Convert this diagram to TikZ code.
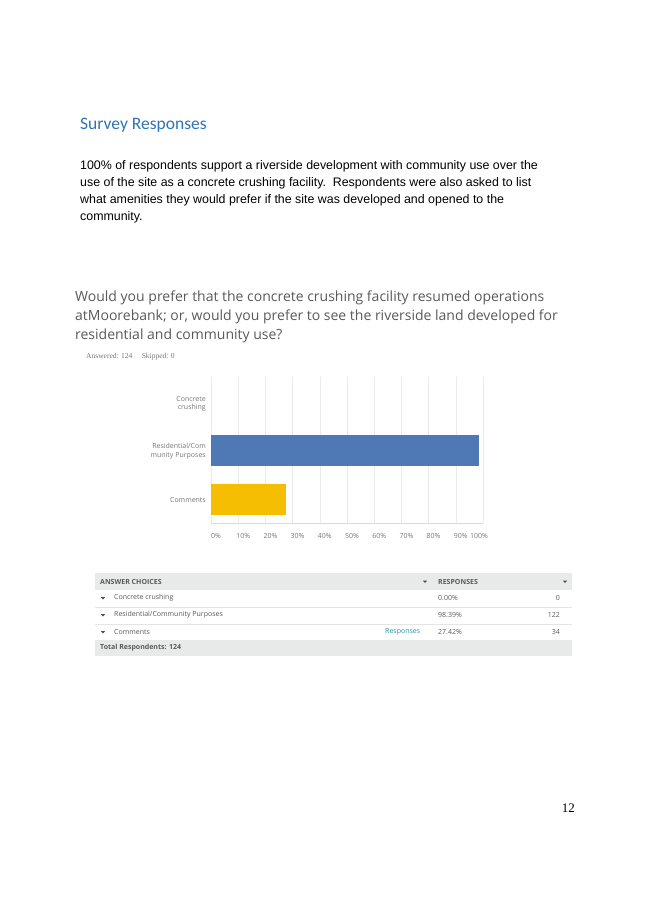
\documentclass[tikz,border=0pt]{standalone}
\usepackage{fontspec}
\setmainfont{Liberation Sans}
\newfontfamily\titlefont{Carlito}
\newfontfamily\smfont{Open Sans}
\newfontfamily\pagefont{Liberation Serif}
\definecolor{titleblue}{RGB}{46,116,181}
\definecolor{barblue}{RGB}{78,121,180}
\definecolor{baryellow}{RGB}{246,190,0}
\definecolor{qgray}{RGB}{90,90,90}
\definecolor{lgray}{RGB}{120,120,120}
\definecolor{rowgray}{RGB}{232,234,234}
\definecolor{linkteal}{RGB}{40,150,160}
\begin{document}
\begin{tikzpicture}[x=1pt, y=-1pt, >=stealth,
	bodytext/.style={anchor=west, font=\fontsize{12.4}{14}\selectfont, inner sep=0pt},
	barlabel/.style={anchor=east, align=right, font=\smfont\fontsize{7}{8.5}\selectfont, text=lgray, inner sep=0pt},
	ticklabel/.style={font=\smfont\fontsize{7}{8}\selectfont, text=lgray, inner sep=0pt},
	celltext/.style={anchor=west, font=\smfont\fontsize{7}{8}\selectfont, text=qgray, inner sep=0pt}]
		\useasboundingbox (0,0) rectangle (653,923);
		\fill[white] (0,0) rectangle (653,923);
		% heading and text
		\node[anchor=west, inner sep=0pt, font=\titlefont\fontsize{17.5}{20}\selectfont, text=titleblue] (title) at (80,125) {Survey Responses};
		\node[bodytext] (p1) at (80,166) {100\% of respondents support a riverside development with community use over the};
		\node[bodytext] (p2) at (80,183) {use of the site as a concrete crushing facility.\ \ Respondents were also asked to list};
		\node[bodytext] (p3) at (80,200) {what amenities they would prefer if the site was developed and opened to the};
		\node[bodytext] (p4) at (80,217) {community.};
		\node[anchor=north west, align=left, inner sep=0pt, text=qgray, font=\smfont\fontsize{14}{19}\selectfont] (question) at (75,291) {Would you prefer that the concrete crushing facility resumed operations\\atMoorebank; or, would you prefer to see the riverside land developed for\\residential and community use?};
		\node[anchor=west, inner sep=0pt, text=lgray, font=\pagefont\fontsize{7.5}{9}\selectfont] (answered) at (86,357) {Answered: 124\quad\ Skipped: 0};
		% chart
		\foreach \i in {0,...,10}
			\draw[black!8] ({211+27.2*\i},377) -- ({211+27.2*\i},523);
		\draw[black!15] (211,523) -- (483,523);
		\fill[barblue] (211,435) rectangle (478.6,466);
		\fill[baryellow] (211,484) rectangle (285.6,515);
		\node[barlabel] (lconcrete) at (206,404) {Concrete\\crushing};
		\node[barlabel] (lresidential) at (206,451) {Residential/Com\\munity Purposes};
		\node[barlabel] (lcomments) at (206,500) {Comments};
		\foreach \i in {0,...,9}
			\node[ticklabel] at ({216+27.2*\i},536) {\pgfmathparse{int(10*\i)}\pgfmathresult\%};
		\node[ticklabel] at (479,536) {100\%};
		% table
		\fill[rowgray] (95,573) rectangle (572,590);
		\fill[rowgray] (95,640) rectangle (572,656);
		\foreach \y in {607,624}
			\draw[black!10] (95,\y) -- (572,\y);
		\node[celltext, font=\smfont\bfseries\fontsize{7}{8}\selectfont] (hchoices) at (100,582) {ANSWER CHOICES};
		\node[celltext, font=\smfont\bfseries\fontsize{7}{8}\selectfont] (hresponses) at (438,582) {RESPONSES};
		\foreach \x in {425,565}
			\fill[black!70] (\x-2.2,580.5) -- (\x+2.2,580.5) -- (\x,583) -- cycle;
		\foreach \y in {598,615,632}
			\fill[black!70] (103-2.2,\y-1) -- (103+2.2,\y-1) -- (103,\y+1.5) -- cycle;
		\node[celltext] (c1) at (114,598) {Concrete crushing};
		\node[celltext] (c2) at (114,615) {Residential/Community Purposes};
		\node[celltext] (c3) at (114,632) {Comments};
		\node[celltext, text=linkteal] (link) at (385,632) {Responses};
		\node[celltext] (r1) at (438,598) {0.00\%};
		\node[celltext] (r2) at (438,615) {98.39\%};
		\node[celltext] (r3) at (438,632) {27.42\%};
		\node[celltext, anchor=east] (n1) at (560,598) {0};
		\node[celltext, anchor=east] (n2) at (560,615) {122};
		\node[celltext, anchor=east] (n3) at (560,632) {34};
		\node[celltext, font=\smfont\bfseries\fontsize{7}{8}\selectfont] (total) at (100,648) {Total Respondents: 124};
		% page number
		\node[anchor=east, inner sep=0pt, font=\pagefont\fontsize{13}{15}\selectfont] (pagenum) at (575,808) {12};
\end{tikzpicture}
\end{document}
